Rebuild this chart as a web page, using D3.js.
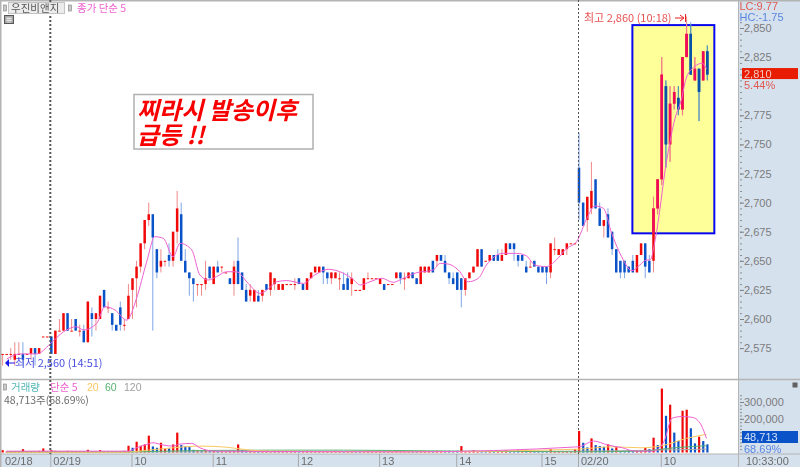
<!DOCTYPE html>
<html>
<head>
<meta charset="utf-8">
<script src="https://cdn.jsdelivr.net/npm/d3@7"></script>
<style>
  html, body { margin: 0; padding: 0; background: #fff; }
  svg { display: block; filter: blur(0.3px); }
  text { font-family: "Liberation Sans", "Noto Sans CJK KR", sans-serif; font-size: 11px; }
  .kr { font-family: "Noto Sans CJK KR", sans-serif; }
</style>
</head>
<body>
<svg id="chart" width="800" height="467"></svg>
<script>
// 3분봉: 시가, 고가, 저가, 종가
const opens = [2570,2570,2570,2565,2570,2570,2570,2570,2575,2570,2585,2585,2585,2570,2590,2590,2605,2590,2600,2590,
  2590,2580,2605,2600,2600,2625,2610,2605,2595,2610,2595,2600,2625,2635,2645,2665,2685,2690,2660,2645,
  2650,2655,2650,2675,2690,2650,2640,2635,2630,2630,2630,2645,2630,2645,2645,2640,2635,2630,2650,2640,
  2625,2620,2615,2620,2620,2630,2625,2630,2625,2625,2630,2630,2630,2635,2630,2625,2635,2640,2640,2645,
  2640,2635,2635,2635,2630,2635,2630,2625,2625,2625,2635,2635,2635,2630,2630,2630,2630,2635,2640,2635,
  2635,2640,2635,2630,2640,2640,2650,2650,2655,2650,2640,2635,2640,2635,2625,2635,2640,2645,2660,2650,
  2650,2655,2655,2650,2655,2665,2665,2655,2655,2645,2645,2650,2645,2645,2645,2640,2660,2655,2655,2660,
  2665,2665,2730,2700,2685,2695,2720,2695,2680,2690,2675,2660,2650,2650,2645,2650,2640,2655,2665,2650,
  2650,2695,2720,2800,2750,2785,2790,2780,2825,2845,2805,2815,2805,2830];
const highs = [2570,2570,2575,2580,2580,2580,2570,2575,2575,2575,2585,2585,2585,2590,2600,2605,2605,2600,2600,2595,
  2595,2615,2610,2605,2620,2625,2615,2605,2595,2615,2600,2630,2635,2650,2665,2685,2700,2690,2660,2660,
  2650,2665,2675,2710,2700,2660,2640,2635,2630,2630,2650,2645,2645,2650,2645,2640,2635,2650,2670,2640,
  2630,2630,2625,2625,2625,2630,2640,2635,2630,2630,2630,2630,2635,2635,2630,2635,2640,2645,2645,2645,
  2640,2640,2640,2640,2640,2640,2640,2625,2625,2635,2640,2635,2635,2635,2630,2630,2630,2640,2640,2640,
  2640,2640,2635,2645,2645,2645,2650,2655,2655,2655,2640,2640,2640,2635,2635,2640,2645,2660,2660,2650,
  2655,2655,2660,2660,2665,2665,2665,2655,2655,2650,2650,2650,2645,2645,2645,2665,2670,2660,2660,2665,
  2665,2665,2760,2700,2705,2735,2720,2700,2685,2695,2675,2660,2650,2650,2645,2655,2655,2665,2665,2655,
  2705,2720,2825,2805,2800,2800,2800,2825,2860,2855,2825,2815,2830,2835];
const lows = [2560,2570,2565,2560,2570,2560,2570,2565,2560,2570,2585,2585,2570,2570,2590,2590,2590,2590,2590,2585,
  2580,2580,2585,2590,2600,2610,2605,2590,2590,2590,2590,2600,2600,2610,2640,2660,2680,2590,2635,2640,
  2645,2645,2645,2665,2650,2640,2620,2615,2620,2620,2625,2635,2630,2640,2640,2640,2630,2620,2630,2625,
  2615,2615,2615,2615,2615,2625,2620,2625,2625,2625,2630,2630,2625,2630,2625,2625,2635,2640,2640,2630,
  2630,2630,2635,2625,2625,2625,2620,2625,2625,2625,2635,2635,2635,2630,2625,2630,2630,2635,2630,2625,
  2635,2635,2630,2630,2640,2640,2640,2645,2650,2640,2630,2630,2625,2610,2620,2635,2640,2645,2645,2650,
  2650,2650,2650,2650,2655,2660,2650,2645,2650,2640,2645,2645,2640,2640,2630,2635,2655,2655,2655,2655,
  2665,2665,2685,2680,2675,2690,2695,2680,2670,2670,2655,2640,2635,2635,2640,2640,2640,2655,2635,2640,
  2640,2690,2715,2730,2735,2780,2775,2775,2825,2810,2805,2770,2805,2805];
const closes = [2570,2570,2570,2570,2570,2565,2570,2575,2570,2575,2585,2585,2570,2590,2590,2605,2590,2590,2590,2590,
  2580,2615,2600,2605,2620,2610,2610,2595,2590,2595,2595,2620,2635,2645,2665,2685,2690,2670,2640,2650,
  2650,2650,2675,2695,2650,2640,2635,2630,2630,2630,2635,2635,2645,2640,2645,2640,2630,2645,2630,2625,
  2615,2625,2625,2615,2625,2625,2640,2635,2630,2630,2630,2630,2630,2630,2625,2635,2640,2645,2645,2640,
  2635,2640,2640,2635,2625,2625,2635,2625,2625,2635,2635,2635,2635,2635,2625,2630,2630,2640,2635,2635,
  2640,2635,2630,2645,2645,2645,2640,2655,2650,2640,2635,2630,2625,2625,2635,2640,2645,2660,2645,2650,
  2655,2650,2650,2655,2665,2660,2660,2650,2650,2640,2645,2645,2640,2640,2640,2665,2660,2660,2660,2665,
  2665,2665,2700,2680,2705,2710,2695,2680,2685,2670,2660,2640,2640,2640,2640,2640,2655,2665,2645,2640,
  2695,2720,2810,2750,2785,2795,2780,2825,2845,2810,2815,2795,2830,2810];

// 종가 단순 5
const maBars = [1,4.3,8.4,11.7,15,18.2,19.9,23.2,25.2,27.7,30.6,33,35.5,37.5,39.6,42,43.7,46.6,48.6,50.7,52.7,55.2,57.6,60.5,63.4,
  65.9,67.5,70,74.1,76.9,80.2,83.1,86,88.2,90.5,93.4,96.2,98.7,102,106,107.8,109.8,112.3,114.7,117.2,119.2,123.3,126.6,129.1,131.1,134,136.4,
  139,141.4,143.9,145.8,147.9,149.9,152.3,154.8,156.7,158.3,159.2,160.4,163.2,165.2,166.7,167.9,169.9,171.8,172.8];
const maValues = [2565.6,2570,2570,2578.5,2589,2593.4,2590.6,2596.3,2610.6,2607.7,2599,2617.8,2649.2,2670.7,2669.3,2653.5,2665,2659.3,2637.8,2633.5,2636.4,2640.6,2640.6,2630.6,2622,
  2627.2,2632,2633,2630.6,2637.8,2642.7,2640.6,2635,2629.2,2632,2635,2631.5,2635,2639.8,2642,2647.8,2647.2,2642,2632,2635,2646.4,2656.4,2656.4,2654.1,2646.4,2645,2650.7,
  2660.7,2666.4,2686.5,2697.1,2695.1,2673.6,2653.5,2641.5,2646.4,2650.7,2650.7,2668,2736.6,2772.4,2788,2806.8,2816.8,2819.7,2814.8];

// 거래량 (천주)
const volumes = [14,6,8,6,8,20,6,8,6,10,24,8,14,10,8,6,10,6,8,4,
  6,16,6,6,14,6,4,6,4,6,10,40,28,64,40,48,100,36,28,58,
  20,24,48,118,44,36,32,16,8,8,12,8,10,8,6,6,8,10,48,14,
  10,8,6,8,6,10,4,4,6,4,4,8,8,4,4,10,4,4,4,4,
  4,4,10,4,4,4,6,4,4,6,10,4,4,6,10,4,4,4,10,4,
  4,6,6,6,4,8,4,10,4,4,10,4,10,38,6,6,14,4,6,4,
  6,4,4,6,14,4,4,14,4,14,6,4,4,4,4,20,4,4,4,8,
  4,20,128,58,30,84,44,38,34,48,24,32,4,6,12,8,12,8,28,20,
  88,44,380,218,284,118,68,248,254,144,54,94,68,48.7];
const volDown = [26,28,32,37,38,41,44,45,46,47,49,51,53,59,60,63,73,84,87,88,94,101,102,106,109,110,111,112,118,119,121,125,126,127,129,131,132,133,134,
  143,144,146,147,148,150,152,153,154,155,159,161,163,165,166,169,170,172,173];

const volMa5Bars = [1,31,33,35.5,37,39.6,42,43.7,46.6,48.6,52,66,100,142,145.5,149,152.5,155.5,160,162.5,164.5,167,169.5,171.5,172.8];
const volMa5Values = [8,8,28,48,58,44,38,50,54,28,8,6,4,34,68,44,28,8,8,64,204,214,208,164,84];
const volMa20Bars = [1,30,36,42,48.6,55,61,66,100,142,150,157,162,168,172.8];
const volMa20Values = [2,2,14,28,38,32,14,8,4,20,34,28,40,84,108];
const volMa60Bars = [1,31,40,48.6,66,74,84,96,142,157,165,172.8];
const volMa60Values = [4,4,8,12,14,14,14,12,4,8,28,40];
const volMa120Bars = [1,66,142,172.8];
const volMa120Values = [3,4,8,20];

// 축 눈금
const priceTicks = [2850,2825,2775,2750,2725,2700,2675,2650,2625,2600,2575];
const volumeTicks = [200,300];
const timeTicks = [12,32,52,73,93,112,133,142,162];
const timeLabels = ["02/19","10","11","12","13","14","15","02/20","10"];
const dayLines = [12,142];
const boxBars = [154.9,174.7];
const boxPrices = [2852.5,2673.6];

const width = 800, height = 467;
const panelX = 739, priceBottom = 379, stripTop = 454;
const fmt = d3.format(",");

const svg = d3.select("#chart");
const x = d3.scaleLinear().domain([0,142,173]).range([2.6,579,707.3]);
const y = d3.scaleLinear().domain([2850,2575]).range([28,348.1]);
const yVol = d3.scaleLinear().domain([0,300]).range([452.5,402]);

// 오른쪽 축 영역, 아래 시간 영역
svg.append("rect").attr("x",panelX).attr("y",0).attr("width",width-panelX).attr("height",height).attr("fill","#d6e1ee");
svg.append("rect").attr("x",0).attr("y",stripTop).attr("width",width).attr("height",height-stripTop).attr("fill","#d6e1ee");
svg.append("line").attr("x1",0).attr("x2",width).attr("y1",priceBottom+0.5).attr("y2",priceBottom+0.5).attr("stroke","#b4b4b4").attr("stroke-width",1.5);
svg.append("line").attr("x1",panelX-0.5).attr("x2",panelX-0.5).attr("y1",0).attr("y2",height).attr("stroke","#b4b4b4");
svg.append("line").attr("x1",0).attr("x2",width).attr("y1",stripTop).attr("y2",stripTop).attr("stroke","#b4b4b4");
svg.append("line").attr("x1",0.5).attr("x2",0.5).attr("y1",0).attr("y2",height).attr("stroke","#b4b4b4").attr("stroke-width",2);
svg.append("line").attr("x1",0).attr("x2",width).attr("y1",0.5).attr("y2",0.5).attr("stroke","#b4b4b4").attr("stroke-width",2);

// 노란 박스
svg.append("rect")
  .attr("x",x(boxBars[0])).attr("y",y(boxPrices[0]))
  .attr("width",x(boxBars[1])-x(boxBars[0])).attr("height",y(boxPrices[1])-y(boxPrices[0]))
  .attr("fill","#ffff99").attr("stroke","#0808f0").attr("stroke-width",2);

svg.append("clipPath").attr("id","box-clip").append("rect")
  .attr("x",x(boxBars[0])).attr("y",y(boxPrices[0]))
  .attr("width",x(boxBars[1])-x(boxBars[0])).attr("height",y(boxPrices[1])-y(boxPrices[0]));

// 캔들
const bars = d3.range(opens.length).map(i => ({i, o:opens[i], h:highs[i], l:lows[i], c:closes[i]}));
function drawCandles(g, upBody, downBody, upWick, downWick) {
  g.selectAll(".wick").data(bars).enter().append("line")
    .attr("class","wick")
    .attr("x1",d => x(d.i)).attr("x2",d => x(d.i))
    .attr("y1",d => y(d.h)).attr("y2",d => y(d.l))
    .attr("stroke",d => d.c >= d.o ? upWick : downWick);
  g.selectAll(".body").data(bars).enter().append("rect")
    .attr("class","body")
    .attr("x",d => x(d.i)-1.25).attr("width",2.5)
    .attr("y",d => y(Math.max(d.o,d.c)))
    .attr("height",d => Math.max(1,Math.abs(y(d.o)-y(d.c))))
    .attr("fill",d => d.c >= d.o ? upBody : downBody);
}
drawCandles(svg.append("g"),"#f00808","#0a52c8","#f08a8a","#7fa6e6");
drawCandles(svg.append("g").attr("clip-path","url(#box-clip)"),"#f00a5e","#0a52a8","#f07a88","#4a90a8");

const maLine = d3.line().x(d => x(d[0])).y(d => y(d[1])).curve(d3.curveMonotoneX);
svg.append("path").datum(d3.zip(maBars,maValues)).attr("d",maLine)
  .attr("fill","none").attr("stroke","#ee60d0").attr("stroke-width",1);

// 일자 구분 점선
svg.selectAll(".day-line").data(dayLines).enter().append("line")
  .attr("class","day-line")
  .attr("x1",(d,i) => x(d)-(i ? 0.5 : 1)).attr("x2",(d,i) => x(d)-(i ? 0.5 : 1))
  .attr("y1",0).attr("y2",stripTop)
  .attr("stroke","#555").attr("stroke-width",(d,i) => i ? 1 : 2).attr("stroke-dasharray","2,2");

// 거래량
svg.append("g").selectAll("rect").data(volumes).enter().append("rect")
  .attr("x",(d,i) => x(i)-1).attr("width",2.2)
  .attr("y",d => yVol(d)).attr("height",d => yVol(0)-yVol(d))
  .attr("fill",(d,i) => volDown.includes(i) ? "#0a52c8" : "#f00808");

const volLine = d3.line().x(d => x(d[0])).y(d => yVol(d[1])).curve(d3.curveMonotoneX);
[[volMa120Bars,volMa120Values,"#a8a8a8"],
 [volMa60Bars,volMa60Values,"#58b070"],
 [volMa20Bars,volMa20Values,"#f8c860"],
 [volMa5Bars,volMa5Values,"#ee60d0"]].forEach(s => {
  svg.append("path").datum(d3.zip(s[0],s[1])).attr("d",volLine)
    .attr("fill","none").attr("stroke",s[2]).attr("stroke-width",1);
});

// 가격축
const yMinor = d3.axisRight(y).tickValues(d3.range(2575,2856,5)).tickSize(2).tickFormat("");
svg.append("g").attr("transform",`translate(${panelX+1},0)`).call(yMinor)
  .call(g => g.select(".domain").remove())
  .call(g => g.selectAll("line").attr("stroke","#8c8c8c"));
const yAxis = d3.axisRight(y).tickValues(priceTicks).tickSize(4).tickPadding(0).tickFormat(fmt);
svg.append("g").attr("transform",`translate(${panelX+1},0)`).call(yAxis)
  .call(g => g.select(".domain").remove())
  .call(g => g.selectAll("line").attr("stroke","#808080"))
  .call(g => g.selectAll("text").attr("fill","#7c7c7c").style("font-size","11px"));

// 거래량축
const vMinor = d3.axisRight(yVol).tickValues(d3.range(20,341,20)).tickSize(2).tickFormat("");
svg.append("g").attr("transform",`translate(${panelX+1},0)`).call(vMinor)
  .call(g => g.select(".domain").remove())
  .call(g => g.selectAll("line").attr("stroke","#8c8c8c"));
const vAxis = d3.axisRight(yVol).tickValues(volumeTicks).tickSize(4).tickPadding(0).tickFormat(d => fmt(d*1000));
svg.append("g").attr("transform",`translate(${panelX+1},0)`).call(vAxis)
  .call(g => g.select(".domain").remove())
  .call(g => g.selectAll("line").attr("stroke","#808080"))
  .call(g => g.selectAll("text").attr("fill","#7c7c7c").style("font-size","11px"));

// 시간축
const timeScale = d3.scaleOrdinal().domain(timeTicks).range(timeTicks.map(d => x(d)-0.5));
const xAxis = d3.axisBottom(timeScale).tickSize(0).tickFormat((d,i) => timeLabels[i]);
svg.append("g").attr("transform",`translate(0,${stripTop})`).call(xAxis)
  .call(g => g.select(".domain").remove())
  .call(g => g.selectAll("text").attr("fill","#6c6c6c").attr("text-anchor","start").attr("x",2).attr("dy",0).attr("y",10.5).style("font-size","11px"));
svg.selectAll(".time-tick").data(timeTicks).enter().append("line")
  .attr("class","time-tick")
  .attr("x1",d => x(d)-0.5).attr("x2",d => x(d)-0.5).attr("y1",stripTop).attr("y2",height)
  .attr("stroke","#a8a8a8");

function label(str, lx, ly, color, size, cls) {
  return svg.append("text").attr("x",lx).attr("y",ly).attr("fill",color)
    .attr("class",cls || null).style("font-size",(size || 11)+"px").text(str);
}

label("02/18",5,464.5,"#6c6c6c");
label("10:33:00",746,464.5,"#6c6c6c");

// 오른쪽 상단 수치
label("LC:9.77",739.5,10,"#e05a50");
label("HC:-1.75",739.5,21,"#5a86e0");
svg.append("rect").attr("x",742).attr("y",y(2810)-6.5).attr("width",56).attr("height",11).attr("fill","#e81c02");
label(fmt(closes[closes.length-1]),744,y(2810)+3.5,"#f4c8c0");
label("5.44%",744,89,"#e05a50");

svg.append("rect").attr("x",742).attr("y",431).attr("width",56).attr("height",12).attr("fill","#0a52c8");
label("48,713",744,441,"#d0e0f8");
label("68.69%",744,452.5,"#5a86e0");

// 범례
function handle(hx, hy) {
  svg.append("rect").attr("x",hx).attr("y",hy).attr("width",3).attr("height",6)
    .attr("fill","#c8c8c8").attr("stroke","#808080").attr("stroke-width",0.6);
}
handle(3.5,5);
svg.append("rect").attr("x",8.5).attr("y",2.5).attr("width",56).attr("height",11).attr("fill","#ececec").attr("stroke","#c4c4c4");
label("우진비앤지",11,12,"#555","10.5","kr");
handle(68.5,5);
label("종가 단순 5",77,12,"#ee60d0","10.5","kr");

svg.append("rect").attr("x",4.5).attr("y",15.5).attr("width",9).attr("height",8).attr("fill","#a8a8a8").attr("stroke","#585858");
svg.append("path").attr("d","M6 18.5H12M6 20.5H12M8 17V23M10 17V23").attr("stroke","#f0f0f0").attr("stroke-width",0.7).attr("fill","none");

handle(3.5,384);
label("거래량",11,391,"#50b4b4","10.5","kr");
label("단순 5",50,391,"#ee60d0","10.5","kr");
label("20",87,391,"#f8c860","10.5");
label("60",105,391,"#58b070","10.5");
label("120",124,391,"#a0a0a0","10.5");
label("48,713주(68.69%)",4,404,"#6c6c6c","10.5","kr");

// 메모
svg.append("rect").attr("x",134).attr("y",94.5).attr("width",179).attr("height",54.5)
  .attr("fill","#fff").attr("stroke","#b0b0b0").attr("stroke-width",1.5);
svg.append("text").attr("x",137).attr("y",119).attr("fill","#f80000").attr("class","kr")
  .style("font-size","24px").style("font-weight","bold").style("font-style","italic").text("찌라시 발송이후");
svg.append("text").attr("x",137).attr("y",144).attr("fill","#f80000").attr("class","kr")
  .style("font-size","24px").style("font-weight","bold").style("font-style","italic").text("급등 !!");

// 최고 / 최저 표시
label("최고 2,860 (10:18)",584,22,"#e85050","11","kr");
svg.append("path").attr("d","M675 18H684M680 15L684 18L680 21M685.5 14V22").attr("fill","none").attr("stroke","#e82020");
label("최저 2,560 (14:51)",15,367,"#4a50e0","11","kr");
svg.append("path").attr("d","M15 363H6").attr("stroke","#1818e8");
svg.append("path").attr("d","M5 363L9 359V367Z").attr("fill","#1818e8");
svg.append("rect").attr("x",792.5).attr("y",382.5).attr("width",5).attr("height",5).attr("fill","#606060");
</script>
</body>
</html>
